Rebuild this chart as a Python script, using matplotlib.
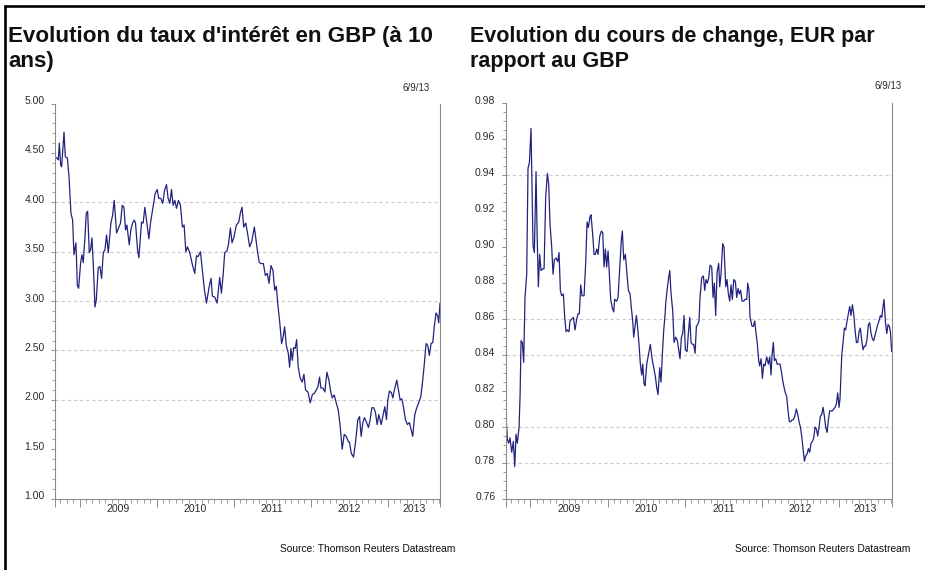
import matplotlib
matplotlib.use('Agg')
import matplotlib.pyplot as plt
import matplotlib.transforms as mtrans
from matplotlib.lines import Line2D
import numpy as np

plt.rcParams['font.family'] = ['Liberation Sans', 'DejaVu Sans']

# ---------------- data ----------------
X_START, X_END = 2008.68, 2013.68
years = [2009, 2010, 2011, 2012, 2013]

gbp10_t = [
 2008.680, 2008.702, 2008.723, 2008.736, 2008.753, 2008.766, 2008.797, 2008.814, 2008.840, 2008.862,
 2008.887, 2008.909, 2008.926, 2008.952, 2008.970, 2008.987, 2009.013, 2009.030, 2009.047, 2009.069,
 2009.086, 2009.104, 2009.125, 2009.142, 2009.160, 2009.177, 2009.199, 2009.216, 2009.242, 2009.263,
 2009.285, 2009.307, 2009.328, 2009.350, 2009.372, 2009.406, 2009.428, 2009.449, 2009.480, 2009.506,
 2009.531, 2009.553, 2009.575, 2009.596, 2009.614, 2009.644, 2009.665, 2009.687, 2009.709, 2009.726,
 2009.752, 2009.769, 2009.804, 2009.825, 2009.847, 2009.869, 2009.899, 2009.920, 2009.946, 2009.981,
 2010.007, 2010.028, 2010.054, 2010.080, 2010.102, 2010.128, 2010.149, 2010.171, 2010.193, 2010.214,
 2010.236, 2010.258, 2010.283, 2010.309, 2010.335, 2010.357, 2010.379, 2010.400, 2010.430, 2010.461,
 2010.495, 2010.517, 2010.538, 2010.569, 2010.595, 2010.621, 2010.647, 2010.681, 2010.707, 2010.724,
 2010.755, 2010.785, 2010.819, 2010.841, 2010.863, 2010.884, 2010.914, 2010.932, 2010.958, 2010.979,
 2011.005, 2011.035, 2011.066, 2011.087, 2011.109, 2011.131, 2011.156, 2011.178, 2011.208, 2011.234,
 2011.269, 2011.291, 2011.312, 2011.334, 2011.360, 2011.386, 2011.412, 2011.437, 2011.459, 2011.485,
 2011.511, 2011.533, 2011.554, 2011.576, 2011.597, 2011.623, 2011.641, 2011.662, 2011.684, 2011.710,
 2011.727, 2011.744, 2011.762, 2011.779, 2011.800, 2011.818, 2011.839, 2011.865, 2011.891, 2011.913,
 2011.934, 2011.965, 2011.995, 2012.021, 2012.051, 2012.073, 2012.094, 2012.116, 2012.133, 2012.159,
 2012.185, 2012.211, 2012.237, 2012.259, 2012.280, 2012.306, 2012.332, 2012.358, 2012.384, 2012.410,
 2012.436, 2012.462, 2012.488, 2012.505, 2012.527, 2012.557, 2012.583, 2012.613, 2012.635, 2012.656,
 2012.678, 2012.699, 2012.721, 2012.751, 2012.773, 2012.795, 2012.820, 2012.842, 2012.864, 2012.885,
 2012.916, 2012.937, 2012.963, 2012.985, 2013.002, 2013.024, 2013.050, 2013.067, 2013.088, 2013.119,
 2013.140, 2013.162, 2013.184, 2013.205, 2013.231, 2013.257, 2013.283, 2013.305, 2013.326, 2013.352,
 2013.378, 2013.404, 2013.430, 2013.456, 2013.477, 2013.499, 2013.521, 2013.542, 2013.564, 2013.586,
 2013.607, 2013.629, 2013.650, 2013.663, 2013.680]
gbp10_v = [
 4.46, 4.45, 4.43, 4.60, 4.38, 4.36, 4.71, 4.46, 4.45, 4.26,
 3.89, 3.82, 3.47, 3.59, 3.16, 3.13, 3.39, 3.47, 3.39, 3.65,
 3.89, 3.91, 3.49, 3.52, 3.64, 3.38, 2.94, 3.01, 3.34, 3.35,
 3.23, 3.49, 3.52, 3.67, 3.49, 3.79, 3.87, 4.02, 3.69, 3.74,
 3.79, 3.97, 3.95, 3.72, 3.77, 3.57, 3.72, 3.79, 3.82, 3.79,
 3.52, 3.44, 3.80, 3.79, 3.95, 3.82, 3.63, 3.79, 3.92, 4.09,
 4.13, 4.04, 4.04, 3.99, 4.12, 4.18, 4.04, 3.99, 4.13, 3.97,
 4.02, 3.94, 4.02, 3.97, 3.75, 3.77, 3.50, 3.55, 3.49, 3.38,
 3.28, 3.46, 3.45, 3.50, 3.31, 3.11, 2.98, 3.14, 3.23, 3.05,
 3.04, 2.98, 3.24, 3.08, 3.26, 3.49, 3.51, 3.57, 3.74, 3.59,
 3.65, 3.77, 3.80, 3.89, 3.95, 3.75, 3.79, 3.70, 3.55, 3.60,
 3.75, 3.62, 3.49, 3.39, 3.38, 3.38, 3.26, 3.28, 3.18, 3.36,
 3.31, 3.11, 3.15, 2.95, 2.80, 2.57, 2.63, 2.74, 2.55, 2.47,
 2.33, 2.52, 2.40, 2.53, 2.52, 2.61, 2.33, 2.22, 2.18, 2.26,
 2.10, 2.08, 1.97, 2.05, 2.07, 2.10, 2.13, 2.23, 2.12, 2.12,
 2.08, 2.28, 2.20, 2.09, 2.02, 2.05, 1.97, 1.90, 1.73, 1.50,
 1.65, 1.63, 1.58, 1.57, 1.46, 1.42, 1.57, 1.80, 1.83, 1.63,
 1.77, 1.82, 1.78, 1.72, 1.80, 1.92, 1.92, 1.87, 1.75, 1.85,
 1.75, 1.83, 1.93, 1.80, 2.00, 2.09, 2.07, 2.02, 2.10, 2.20,
 2.10, 2.00, 2.01, 1.93, 1.80, 1.75, 1.77, 1.70, 1.63, 1.85,
 1.92, 1.97, 2.03, 2.20, 2.37, 2.57, 2.55, 2.45, 2.57, 2.58,
 2.75, 2.88, 2.85, 2.78, 2.98]

eurgbp_t = [
 2008.680, 2008.702, 2008.719, 2008.736, 2008.758, 2008.779, 2008.797, 2008.814, 2008.831, 2008.853,
 2008.866, 2008.879, 2008.896, 2008.913, 2008.930, 2008.952, 2008.969, 2008.987, 2009.008, 2009.021,
 2009.034, 2009.051, 2009.073, 2009.086, 2009.103, 2009.120, 2009.138, 2009.159, 2009.177, 2009.198,
 2009.220, 2009.237, 2009.254, 2009.276, 2009.293, 2009.310, 2009.332, 2009.354, 2009.371, 2009.388,
 2009.405, 2009.427, 2009.444, 2009.462, 2009.479, 2009.500, 2009.513, 2009.535, 2009.557, 2009.578,
 2009.600, 2009.617, 2009.634, 2009.652, 2009.669, 2009.695, 2009.716, 2009.734, 2009.751, 2009.772,
 2009.785, 2009.807, 2009.824, 2009.842, 2009.859, 2009.876, 2009.898, 2009.919, 2009.937, 2009.954,
 2009.971, 2009.988, 2010.006, 2010.023, 2010.040, 2010.062, 2010.079, 2010.092, 2010.118, 2010.135,
 2010.157, 2010.178, 2010.191, 2010.209, 2010.230, 2010.247, 2010.269, 2010.291, 2010.308, 2010.325,
 2010.338, 2010.355, 2010.373, 2010.390, 2010.407, 2010.424, 2010.442, 2010.455, 2010.472, 2010.485,
 2010.507, 2010.528, 2010.554, 2010.576, 2010.602, 2010.619, 2010.636, 2010.653, 2010.675, 2010.692,
 2010.710, 2010.727, 2010.744, 2010.753, 2010.770, 2010.787, 2010.805, 2010.822, 2010.843, 2010.861,
 2010.882, 2010.904, 2010.921, 2010.938, 2010.956, 2010.973, 2010.990, 2011.007, 2011.029, 2011.046,
 2011.064, 2011.081, 2011.098, 2011.115, 2011.133, 2011.150, 2011.167, 2011.184, 2011.197, 2011.219,
 2011.241, 2011.258, 2011.275, 2011.292, 2011.310, 2011.327, 2011.349, 2011.366, 2011.383, 2011.400,
 2011.418, 2011.439, 2011.452, 2011.469, 2011.491, 2011.508, 2011.530, 2011.547, 2011.564, 2011.582,
 2011.599, 2011.616, 2011.634, 2011.655, 2011.672, 2011.690, 2011.707, 2011.724, 2011.741, 2011.763,
 2011.780, 2011.802, 2011.815, 2011.832, 2011.845, 2011.871, 2011.888, 2011.906, 2011.923, 2011.940,
 2011.957, 2011.970, 2011.988, 2012.005, 2012.022, 2012.039, 2012.061, 2012.083, 2012.100, 2012.117,
 2012.130, 2012.147, 2012.160, 2012.178, 2012.195, 2012.216, 2012.234, 2012.251, 2012.268, 2012.286,
 2012.303, 2012.320, 2012.337, 2012.355, 2012.372, 2012.389, 2012.406, 2012.424, 2012.445, 2012.463,
 2012.480, 2012.497, 2012.514, 2012.532, 2012.549, 2012.566, 2012.584, 2012.601, 2012.618, 2012.635,
 2012.653, 2012.670, 2012.687, 2012.704, 2012.722, 2012.739, 2012.756, 2012.774, 2012.791, 2012.808,
 2012.825, 2012.843, 2012.860, 2012.877, 2012.894, 2012.912, 2012.929, 2012.946, 2012.964, 2012.981,
 2012.998, 2013.011, 2013.020, 2013.033, 2013.050, 2013.067, 2013.084, 2013.102, 2013.119, 2013.136,
 2013.153, 2013.171, 2013.188, 2013.205, 2013.223, 2013.240, 2013.257, 2013.274, 2013.292, 2013.309,
 2013.326, 2013.343, 2013.361, 2013.378, 2013.395, 2013.413, 2013.430, 2013.447, 2013.464, 2013.482,
 2013.499, 2013.516, 2013.533, 2013.551, 2013.568, 2013.581, 2013.598, 2013.616, 2013.633, 2013.650,
 2013.663, 2013.680]
eurgbp_v = [
 0.809, 0.793, 0.791, 0.794, 0.786, 0.792, 0.778, 0.796, 0.791, 0.800,
 0.817, 0.848, 0.847, 0.836, 0.872, 0.885, 0.944, 0.947, 0.966, 0.932,
 0.901, 0.897, 0.942, 0.909, 0.878, 0.896, 0.887, 0.888, 0.888, 0.928,
 0.941, 0.935, 0.913, 0.900, 0.885, 0.893, 0.894, 0.892, 0.897, 0.876,
 0.873, 0.874, 0.861, 0.853, 0.854, 0.853, 0.859, 0.860, 0.861, 0.854,
 0.860, 0.863, 0.863, 0.879, 0.873, 0.873, 0.891, 0.914, 0.911, 0.917,
 0.918, 0.907, 0.896, 0.896, 0.899, 0.896, 0.906, 0.909, 0.908, 0.889,
 0.899, 0.889, 0.898, 0.884, 0.871, 0.866, 0.864, 0.871, 0.870, 0.872,
 0.888, 0.904, 0.909, 0.893, 0.896, 0.887, 0.876, 0.874, 0.866, 0.859,
 0.850, 0.856, 0.862, 0.855, 0.846, 0.835, 0.829, 0.835, 0.824, 0.823,
 0.835, 0.840, 0.846, 0.838, 0.832, 0.828, 0.822, 0.818, 0.833, 0.825,
 0.841, 0.854, 0.862, 0.869, 0.876, 0.882, 0.887, 0.874, 0.865, 0.847,
 0.850, 0.848, 0.843, 0.838, 0.850, 0.852, 0.862, 0.843, 0.842, 0.852,
 0.861, 0.847, 0.846, 0.846, 0.841, 0.856, 0.857, 0.859, 0.872, 0.883,
 0.884, 0.876, 0.882, 0.880, 0.883, 0.890, 0.889, 0.872, 0.880, 0.862,
 0.886, 0.891, 0.878, 0.885, 0.902, 0.900, 0.878, 0.882, 0.874, 0.870,
 0.879, 0.871, 0.882, 0.881, 0.872, 0.877, 0.874, 0.876, 0.870, 0.870,
 0.871, 0.871, 0.880, 0.876, 0.861, 0.856, 0.856, 0.859, 0.852, 0.846,
 0.837, 0.834, 0.838, 0.827, 0.835, 0.834, 0.839, 0.835, 0.839, 0.829,
 0.840, 0.847, 0.837, 0.838, 0.835, 0.835, 0.835, 0.831, 0.826, 0.822,
 0.819, 0.817, 0.809, 0.803, 0.803, 0.804, 0.804, 0.806, 0.810, 0.807,
 0.803, 0.800, 0.795, 0.788, 0.781, 0.784, 0.785, 0.788, 0.786, 0.791,
 0.792, 0.794, 0.800, 0.799, 0.795, 0.800, 0.806, 0.807, 0.811, 0.806,
 0.800, 0.797, 0.804, 0.809, 0.809, 0.809, 0.810, 0.811, 0.813, 0.819,
 0.811, 0.816, 0.826, 0.840, 0.847, 0.855, 0.854, 0.859, 0.863, 0.867,
 0.862, 0.868, 0.863, 0.854, 0.847, 0.847, 0.853, 0.855, 0.848, 0.843,
 0.845, 0.845, 0.849, 0.857, 0.858, 0.852, 0.849, 0.848, 0.851, 0.854,
 0.857, 0.859, 0.862, 0.861, 0.867, 0.871, 0.859, 0.852, 0.857, 0.856,
 0.853, 0.842]

left_title = ["Evolution du taux d'intérêt en GBP (à 10", "ans)"]
right_title = ["Evolution du cours de change, EUR par", "rapport au GBP"]
date_label = "6/9/13"
source_label = "Source: Thomson Reuters Datastream"

left_ylim, left_major, left_minor = (1.0, 5.0), 0.5, 0.1
left_grid = [4.0, 3.5, 3.0, 2.5, 2.0]
right_ylim, right_major, right_minor = (0.76, 0.98), 0.02, 0.005
right_grid = [0.94, 0.86, 0.84, 0.80, 0.78]

# ---------------- figure ----------------
W, H = 925, 570
DPI = 100
fig = plt.figure(figsize=(W / DPI, H / DPI), dpi=DPI)

def fx(px):
    return px / W

def fy(py):
    return 1 - py / H

LINE_COLOR = '#22227f'
SPINE = '#8c8c8c'
TXT = '#2a2a2a'
GRID = '#cfc8d0'

def make_axes(left_px, right_px, top_px, bottom_px):
    return fig.add_axes([fx(left_px), fy(bottom_px),
                         (right_px - left_px) / W, (bottom_px - top_px) / H])

def style(ax, t, v, ylim, major, minor, grid, fmt):
    ax.plot(t, v, color=LINE_COLOR, lw=0.9)
    ax.set_xlim(X_START, X_END)
    ax.set_ylim(*ylim)
    for g in grid:
        ax.axhline(g, color=GRID, lw=0.8, dashes=(3, 2.5), zorder=0)
    ax.spines['top'].set_visible(False)
    for s in ['left', 'right', 'bottom']:
        ax.spines[s].set_color(SPINE)
        ax.spines[s].set_linewidth(0.8)
    # y ticks
    nmaj = int(round((ylim[1] - ylim[0]) / major))
    yt = [ylim[0] + i * major for i in range(nmaj + 1)]
    nmin = int(round((ylim[1] - ylim[0]) / minor))
    ym = [ylim[0] + i * minor for i in range(nmin + 1)]
    ax.set_yticks(yt)
    ax.set_yticklabels([fmt.format(y) for y in yt])
    ax.set_yticks(ym, minor=True)
    ax.tick_params(axis='y', which='major', length=3, width=0.7, color=SPINE,
                   labelsize=7.5, labelcolor=TXT, pad=4.5, direction='out')
    ax.tick_params(axis='y', which='minor', length=2.2, width=0.6, color=SPINE,
                   direction='out')
    off = mtrans.ScaledTranslation(0, 3.5 / DPI, fig.dpi_scale_trans)
    for lab in ax.get_yticklabels():
        lab.set_transform(lab.get_transform() + off)
    # x ticks
    months = [y + m / 12 for y in range(2008, 2014) for m in range(12)
              if X_START <= y + m / 12 <= X_END]
    ax.set_xticks([X_START] + years + [X_END])
    ax.set_xticklabels([])
    ax.set_xticks(months, minor=True)
    ax.tick_params(axis='x', which='major', length=5.5, width=0.7, color=SPINE,
                   direction='out')
    ax.tick_params(axis='x', which='minor', length=3, width=0.6, color=SPINE,
                   direction='out')
    tr = mtrans.blended_transform_factory(ax.transData, fig.transFigure)
    for y in years:
        a = max(y, X_START)
        b = min(y + 1, X_END)
        ax.text((a + b) / 2, fy(509), str(y), transform=tr, ha='center',
                va='center', fontsize=7.6, color=TXT)

# left chart
axL = make_axes(55, 440, 103.6, 498.6)
style(axL, gbp10_t, gbp10_v, left_ylim, left_major, left_minor, left_grid, '{:.2f}')
# right chart
axR = make_axes(505.7, 891.7, 103.3, 499.0)
style(axR, eurgbp_t, eurgbp_v, right_ylim, right_major, right_minor, right_grid, '{:.2f}')

# titles
fig.text(fx(8), fy(42), left_title[0], fontsize=16.1, weight='bold', color='#111111',
         va='baseline', ha='left')
fig.text(fx(8), fy(67), left_title[1], fontsize=16.1, weight='bold', color='#111111',
         va='baseline', ha='left')
fig.text(fx(470), fy(42), right_title[0], fontsize=15.5, weight='bold', color='#111111',
         va='baseline', ha='left')
fig.text(fx(470), fy(67), right_title[1], fontsize=15.5, weight='bold', color='#111111',
         va='baseline', ha='left')

# dates
fig.text(fx(430), fy(91), date_label, fontsize=7.0, color=TXT, ha='right', va='baseline')
fig.text(fx(902), fy(89), date_label, fontsize=7.0, color=TXT, ha='right', va='baseline')

# sources
fig.text(fx(455), fy(552), source_label, fontsize=7.4, color='#111111', ha='right',
         va='baseline')
fig.text(fx(910), fy(552), source_label, fontsize=7.4, color='#111111', ha='right',
         va='baseline')

# frame lines (top and left)
fig.add_artist(Line2D([fx(4), 1.0], [fy(6), fy(6)], color='black', lw=1.9,
                      solid_capstyle='butt', transform=fig.transFigure))
fig.add_artist(Line2D([fx(5.3), fx(5.3)], [fy(5), 0.0], color='black', lw=1.9,
                      solid_capstyle='butt', transform=fig.transFigure))

fig.savefig('out.png', dpi=DPI)
